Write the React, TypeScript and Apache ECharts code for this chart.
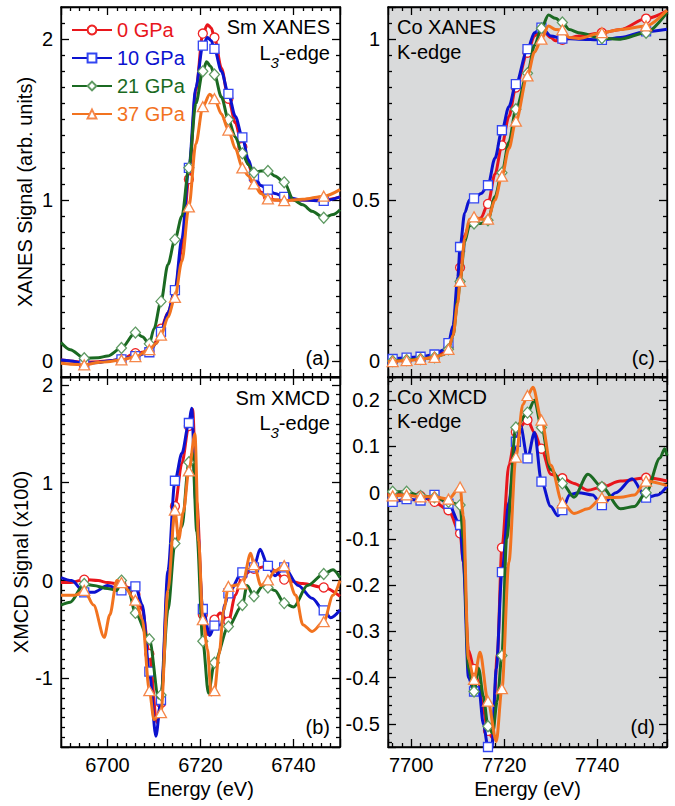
import React, { useEffect, useRef } from "react";
import * as echarts from "echarts";

const FONT = "'Liberation Sans', Arial, Helvetica, sans-serif";

// ---------- data ----------
const pressures = ["0 GPa", "10 GPa", "21 GPa", "37 GPa"];

// energies where markers are drawn
const smMarkerX = [6695, 6703, 6706, 6709, 6711.5, 6714.5, 6717.5, 6720.5, 6723, 6726, 6729, 6731.5, 6734.5, 6738, 6746.5];
const coMarkerX = [7696, 7699, 7702, 7705, 7708, 7710.5, 7713.5, 7716.5, 7719.5, 7722.5, 7725, 7728, 7732.5, 7741, 7750.5];

// Sm XANES (a)
const smXanes0 = [[6690,0.005],[6692,0.0],[6695,-0.01],[6698,-0.005],[6700,0.0],[6703,0.01],[6706,0.048],[6709,0.06],[6710.5,0.12],[6711.5,0.2],[6713,0.3],[6714.5,0.43],[6716,0.7],[6717.5,1.13],[6719,1.68],[6720.5,2.035],[6721.5,2.09],[6722.3,2.07],[6723,2.01],[6724.5,1.82],[6726,1.63],[6727.5,1.48],[6729,1.33],[6730.3,1.22],[6731.5,1.13],[6733,1.05],[6734.5,1.02],[6736,1.0],[6738,1.0],[6742,1.0],[6746.5,1.0],[6750,1.02]];
const smXanes10 = [[6690,0.005],[6692,0.0],[6695,-0.015],[6698,-0.01],[6700,0.0],[6703,0.01],[6706,0.03],[6709,0.054],[6710.5,0.11],[6711.5,0.18],[6713,0.3],[6714.5,0.44],[6716,0.76],[6717.5,1.2],[6719,1.7],[6720.5,1.96],[6721.5,2.01],[6722.3,1.99],[6723,1.94],[6724.5,1.8],[6726,1.66],[6727.5,1.52],[6729,1.39],[6730.3,1.25],[6731.5,1.15],[6733,1.09],[6734.5,1.065],[6736,1.04],[6738,1.02],[6742,1.0],[6746.5,0.995],[6750,1.02]];
const smXanes21 = [[6690,0.115],[6692,0.07],[6695,0.017],[6698,0.02],[6700,0.03],[6703,0.08],[6706,0.176],[6707.5,0.15],[6709,0.106],[6710,0.2],[6711.5,0.37],[6713,0.6],[6714.5,0.754],[6716,0.9],[6717.5,1.2],[6719,1.6],[6720.5,1.8],[6721.3,1.86],[6722.2,1.83],[6723,1.78],[6724.5,1.64],[6726,1.5],[6727.5,1.39],[6729,1.29],[6730.3,1.22],[6731.5,1.17],[6733,1.18],[6734.5,1.18],[6736,1.15],[6738,1.11],[6740,1.0],[6742,0.97],[6744,0.93],[6746.5,0.89],[6748.5,0.91],[6750,0.94]];
const smXanes37 = [[6690,-0.015],[6692,-0.02],[6695,-0.025],[6698,-0.01],[6700,-0.005],[6703,0.006],[6706,0.027],[6709,0.07],[6710.5,0.11],[6711.5,0.16],[6713,0.27],[6714.5,0.395],[6716,0.62],[6717.5,0.957],[6719,1.35],[6720.5,1.58],[6722,1.657],[6723,1.63],[6724.5,1.535],[6726,1.435],[6727.5,1.32],[6729,1.2],[6730.3,1.15],[6731.5,1.1],[6733,1.04],[6734.5,1.007],[6736,1.0],[6738,0.997],[6742,1.005],[6746.5,1.024],[6750,1.065]];

// Sm XMCD (b)
const smXmcd0 = [[6690,-0.02],[6692,-0.02],[6695,0.01],[6698,0.0],[6700,-0.02],[6703,-0.04],[6705,-0.08],[6706,-0.14],[6707.5,-0.3],[6709,-0.75],[6710.6,-1.45],[6711.5,-1.25],[6713,0.0],[6714.5,0.76],[6716,1.2],[6717.5,1.58],[6718.3,1.75],[6719.2,0.8],[6720.5,-0.35],[6721.5,-0.55],[6723,-0.4],[6724.2,-0.33],[6726,-0.42],[6727.5,-0.15],[6729,0.05],[6731.5,0.12],[6734.5,0.15],[6736,0.1],[6738,0.01],[6742,-0.03],[6746.5,-0.07],[6750,-0.16]];
const smXmcd10 = [[6690,0.03],[6692.3,0.0],[6695,-0.12],[6697,-0.12],[6700,-0.05],[6703,-0.1],[6706,-0.06],[6707.5,-0.25],[6709,-0.93],[6710.4,-1.59],[6711.5,-1.22],[6713,0.1],[6714.5,1.02],[6716,1.3],[6717.5,1.61],[6718.1,1.76],[6719,0.8],[6720.5,-0.29],[6722,-0.56],[6723,-0.46],[6724.5,-0.45],[6725.2,-0.25],[6726,-0.13],[6729,0.085],[6731.5,0.136],[6732.8,0.32],[6734.5,0.15],[6736,0.05],[6738,0.136],[6741,-0.05],[6744,-0.18],[6746.5,-0.305],[6748,-0.38],[6750,-0.3]];
const smXmcd21 = [[6690,-0.25],[6692,-0.22],[6695,-0.035],[6697,-0.05],[6700,-0.08],[6702,-0.1],[6703,0.0],[6704.5,-0.1],[6706,-0.33],[6709,-0.6],[6711,-1.2],[6711.5,-1.17],[6713,-0.3],[6714.5,0.38],[6716,0.55],[6717.5,1.21],[6718.3,1.3],[6719.2,0.5],[6720.5,-0.62],[6721.7,-1.15],[6723,-0.84],[6726,-0.47],[6729,-0.25],[6730,-0.05],[6731.5,-0.16],[6733.5,-0.05],[6734.5,-0.07],[6736,-0.1],[6738,-0.23],[6740,-0.27],[6743,-0.05],[6746.5,0.068],[6748.5,0.11],[6750,0.03]];
const smXmcd37 = [[6690,-0.15],[6693,-0.15],[6695,-0.1],[6697,-0.25],[6699.3,-0.58],[6700.5,-0.35],[6702,0.0],[6703,-0.02],[6706,-0.2],[6707.5,-0.4],[6709,-1.125],[6710,-1.42],[6711.5,-1.35],[6713,-0.1],[6714.5,0.72],[6715.3,0.42],[6716.3,0.7],[6717.5,1.12],[6718.8,1.5],[6719.6,0.4],[6720.5,-0.4],[6721.5,-0.7],[6722.3,-1.17],[6723,-1.125],[6724,-0.75],[6725,-0.3],[6726,-0.06],[6729,-0.034],[6730.8,0.28],[6731.5,0.163],[6733,-0.05],[6734.5,0.007],[6736,0.1],[6738,0.153],[6740.5,-0.15],[6742,-0.45],[6744,-0.52],[6746.5,-0.42],[6748.5,-0.15],[6750,0.0]];

// Co XANES (c)
const coXanes0 = [[7695,0.0],[7696,0.001],[7699,0.005],[7702,0.009],[7705,0.016],[7707,0.025],[7708,0.04],[7709,0.1],[7710,0.22],[7710.5,0.29],[7711.5,0.39],[7712.5,0.425],[7713.5,0.43],[7715,0.445],[7716.5,0.488],[7718,0.58],[7719.5,0.67],[7721,0.76],[7722.5,0.85],[7725,0.958],[7726.5,1.01],[7728,1.033],[7730,1.005],[7731,0.995],[7732.5,0.998],[7736,1.01],[7741,1.02],[7745,1.03],[7750.5,1.064],[7755,1.088]];
const coXanes10 = [[7695,0.005],[7696,0.006],[7699,0.01],[7702,0.013],[7705,0.02],[7707,0.035],[7708,0.055],[7709,0.11],[7710,0.26],[7710.5,0.354],[7711.5,0.46],[7712.5,0.5],[7713.5,0.505],[7715,0.52],[7716.5,0.546],[7718,0.63],[7719.5,0.717],[7721,0.79],[7722.5,0.86],[7725,0.969],[7726.5,1.02],[7728,1.036],[7730,1.01],[7732.5,1.002],[7736,1.0],[7741,0.998],[7745,1.005],[7750.5,1.024],[7755,1.031]];
const coXanes21 = [[7695,0.0],[7696,0.0],[7699,0.003],[7702,0.006],[7705,0.011],[7707,0.02],[7708,0.036],[7709,0.08],[7710,0.19],[7710.5,0.247],[7711.5,0.37],[7712.5,0.42],[7713.5,0.427],[7715,0.427],[7716.5,0.437],[7718,0.51],[7719.5,0.585],[7721,0.68],[7722.5,0.782],[7725,0.894],[7726.5,0.98],[7728,1.034],[7729.5,1.075],[7731,1.065],[7732.5,1.052],[7734,1.03],[7736,1.02],[7741,1.003],[7745,1.0],[7750.5,1.02],[7755,1.083]];
const coXanes37 = [[7695,-0.002],[7696,-0.002],[7699,0.001],[7702,0.005],[7705,0.011],[7707,0.02],[7708,0.036],[7709,0.08],[7710,0.18],[7710.5,0.247],[7711.5,0.38],[7712.5,0.44],[7713.5,0.448],[7715,0.44],[7716.5,0.441],[7718,0.5],[7719.5,0.574],[7721,0.66],[7722.5,0.745],[7725,0.886],[7726.5,0.96],[7728,1.0],[7729.5,1.041],[7731,1.03],[7732.5,1.029],[7734,1.005],[7736,1.002],[7741,1.02],[7745,1.03],[7750.5,1.041],[7755,1.09]];

// Co XMCD (d)
const coXmcd0 = [[7695,0.0],[7696,-0.004],[7699,-0.005],[7702,-0.007],[7705,-0.02],[7708,-0.038],[7710.5,-0.088],[7711.2,-0.15],[7712.3,-0.34],[7713.5,-0.381],[7714.5,-0.41],[7715.5,-0.47],[7716.5,-0.515],[7717.5,-0.53],[7718.5,-0.35],[7719.5,-0.119],[7721,0.06],[7722.5,0.131],[7725,0.157],[7726.5,0.13],[7728,0.095],[7730,0.04],[7732.5,0.031],[7735,0.02],[7738,0.005],[7741,0.012],[7745,0.025],[7750.5,0.032],[7755,0.025]];
const coXmcd10 = [[7695,-0.015],[7696,-0.02],[7699,-0.014],[7702,-0.017],[7705,-0.005],[7708,-0.024],[7710.5,-0.07],[7711.2,-0.15],[7712.3,-0.4],[7713.5,-0.43],[7714.5,-0.42],[7715.5,-0.5],[7716.5,-0.55],[7717.3,-0.555],[7718.3,-0.38],[7719.5,-0.172],[7721,-0.02],[7722.5,0.11],[7723.5,0.145],[7725,0.074],[7726.5,0.13],[7728,0.024],[7730,-0.03],[7731.5,-0.05],[7732.5,-0.038],[7734,-0.005],[7736,0.0],[7739,-0.005],[7741,-0.027],[7744,0.0],[7747.5,0.03],[7750.5,-0.011],[7753,-0.005],[7755,0.014]];
const coXmcd21 = [[7695,0.002],[7696,0.002],[7699,0.002],[7702,-0.007],[7705,-0.01],[7708,-0.02],[7710.5,-0.027],[7711.2,-0.1],[7712.3,-0.38],[7713.5,-0.43],[7714.5,-0.38],[7715.5,-0.44],[7716.5,-0.505],[7717.5,-0.52],[7718.5,-0.45],[7719.5,-0.352],[7720.5,-0.1],[7722.5,0.141],[7725,0.173],[7726.5,0.2],[7728,0.141],[7730,0.05],[7732.5,0.02],[7735,-0.01],[7738,0.04],[7741,0.012],[7745,-0.035],[7748,-0.03],[7750.5,0.0],[7753.5,0.075],[7754.5,0.095],[7755,0.08]];
const coXmcd37 = [[7695,-0.005],[7696,-0.007],[7699,-0.005],[7702,-0.009],[7705,-0.009],[7708,-0.014],[7710.5,0.012],[7711.2,-0.05],[7712.3,-0.36],[7713.5,-0.404],[7714.8,-0.345],[7716.5,-0.451],[7718.3,-0.538],[7719.5,-0.424],[7721,-0.15],[7722.5,0.077],[7724,0.19],[7725,0.21],[7726.2,0.228],[7728,0.157],[7730,0.06],[7732.5,-0.022],[7735,-0.045],[7738,-0.035],[7741,-0.011],[7745,-0.01],[7748,-0.005],[7750.5,0.025],[7755,0.015]];

const smRange = [6690, 6750];
const coRange = [7695, 7755];
const yRanges = [[-0.1, 2.2], [-1.7, 2.08], [-0.05, 1.1], [-0.55, 0.25]];

// ---------- styles ----------
const LINE_COLORS = ["#e8161c", "#0c12cf", "#1b6a22", "#f2731f"];
const EDGE_COLORS = ["#ee2424", "#3346f2", "#5f9a63", "#f5874a"];
const SHAPES = ["circle", "rect", "diamond", "triangle"];
const SIZES: any[] = [9, 9, [10, 11], [11, 10]];
const GRAY = "#d9dadb";

const panelData = [
  { grid: 0, sets: [smXanes0, smXanes10, smXanes21, smXanes37], mx: smMarkerX },
  { grid: 1, sets: [smXmcd0, smXmcd10, smXmcd21, smXmcd37], mx: smMarkerX },
  { grid: 2, sets: [coXanes0, coXanes10, coXanes21, coXanes37], mx: coMarkerX },
  { grid: 3, sets: [coXmcd0, coXmcd10, coXmcd21, coXmcd37], mx: coMarkerX },
];

const grids = [
  { left: 61, top: 7, width: 279, height: 370 },
  { left: 61, top: 377, width: 279, height: 370 },
  { left: 388, top: 7, width: 279, height: 370, backgroundColor: GRAY },
  { left: 388, top: 377, width: 279, height: 370, backgroundColor: GRAY },
].map((g) => ({ show: true, borderColor: "#000", borderWidth: 1.3, backgroundColor: "transparent", ...g }));

function axisParts(labels: boolean, minorSplit: number, nameGap: number, name?: string) {
  return {
    axisLine: { show: true, onZero: false, lineStyle: { color: "#000", width: 1.3 } },
    axisTick: { show: true, inside: true, length: 8, lineStyle: { color: "#000", width: 1.3 } },
    minorTick: { show: true, splitNumber: minorSplit, length: 4, lineStyle: { color: "#000", width: 1.3 } },
    splitLine: { show: false },
    minorSplitLine: { show: false },
    axisLabel: {
      show: labels, margin: 8, color: "#000", fontSize: 20, fontFamily: FONT,
      showMinLabel: false, showMaxLabel: false,
      formatter: (v: number) => String(v),
    },
    name: name || "", nameLocation: "middle", nameGap,
    nameTextStyle: { color: "#000", fontSize: 20, fontFamily: FONT },
  };
}

function xAxis(grid: number, position: string, range: number[], labels: boolean, name?: string) {
  return {
    type: "value", gridIndex: grid, position, min: range[0], max: range[1], splitNumber: 3,
    ...axisParts(labels, 10, 32, name),
  };
}

function yAxis(grid: number, position: string, split: number, minorSplit: number, labels: boolean, name?: string) {
  const r = yRanges[grid];
  return {
    type: "value", gridIndex: grid, position, min: r[0], max: r[1], splitNumber: split,
    ...axisParts(labels, minorSplit, 26, name),
  };
}

const xAxes = [
  xAxis(0, "bottom", smRange, false), xAxis(0, "top", smRange, false),
  xAxis(1, "bottom", smRange, true, "Energy (eV)"), xAxis(1, "top", smRange, false),
  xAxis(2, "bottom", coRange, false), xAxis(2, "top", coRange, false),
  xAxis(3, "bottom", coRange, true, "Energy (eV)"), xAxis(3, "top", coRange, false),
];
const yAxes = [
  yAxis(0, "left", 2, 10, true, "XANES Signal (arb. units)"), yAxis(0, "right", 2, 10, false),
  yAxis(1, "left", 4, 10, true, "XMCD Signal (x100)"), yAxis(1, "right", 4, 10, false),
  yAxis(2, "left", 2, 10, true), yAxis(2, "right", 2, 10, false),
  yAxis(3, "left", 8, 5, true), yAxis(3, "right", 8, 5, false),
];

const series: any[] = [];
panelData.forEach((p) => {
  p.sets.forEach((pts, i) => {
    series.push({
      type: "line", name: pressures[i], xAxisIndex: 2 * p.grid, yAxisIndex: 2 * p.grid,
      data: pts.map((pt) => (p.mx.includes(pt[0]) ? { value: pt } : { value: pt, symbol: "none" })),
      symbol: SHAPES[i], symbolSize: SIZES[i], showSymbol: true, showAllSymbol: true,
      smooth: 0.3, smoothMonotone: "x", clip: true,
      lineStyle: { color: LINE_COLORS[i], width: 3 },
      itemStyle: { color: "#ffffff", borderColor: EDGE_COLORS[i], borderWidth: 1.3 },
      emphasis: { disabled: true },
      z: 2 + i,
    });
  });
});

const richL3 = {
  n: { fontSize: 20, fontFamily: FONT, lineHeight: 34, verticalAlign: "middle", fill: "#000" },
  s: { fontSize: 15, fontFamily: FONT, fontStyle: "italic", lineHeight: 15, verticalAlign: "bottom", fill: "#000" },
};

function label(text: string, x: number, y: number, align: string) {
  return { type: "text", x, y, z: 20, style: { text, fontSize: 20, fontFamily: FONT, fill: "#000", align, verticalAlign: "middle" } };
}
function l3label(x: number, y: number) {
  return { type: "text", x, y, z: 20, style: { text: "{n|L}{s|3}{n|-edge}", rich: richL3, align: "right", verticalAlign: "top", fill: "#000" } };
}

const graphics = [
  label("Sm XANES", 330, 27, "right"), l3label(330, 36), label("(a)", 330, 358, "right"),
  label("Sm XMCD", 330, 398, "right"), l3label(330, 406), label("(b)", 330, 727, "right"),
  label("Co XANES", 397, 27, "left"), label("K-edge", 397, 52, "left"), label("(c)", 655, 358, "right"),
  label("Co XMCD", 397, 397, "left"), label("K-edge", 397, 421, "left"), label("(d)", 655, 727, "right"),
];

const option = {
  animation: false,
  backgroundColor: "#ffffff",
  textStyle: { fontFamily: FONT },
  grid: grids,
  xAxis: xAxes,
  yAxis: yAxes,
  legend: {
    orient: "vertical", left: 66, top: 15, itemWidth: 40, itemHeight: 11, itemGap: 8,
    selectedMode: false,
    textStyle: { fontSize: 20, fontFamily: FONT, lineHeight: 20 },
    data: pressures.map((n, i) => ({ name: n, textStyle: { color: LINE_COLORS[i] } })),
  },
  graphic: graphics,
  series,
};

export default function App() {
  const ref = useRef<HTMLDivElement>(null);
  useEffect(() => {
    document.body.style.margin = "0";
    const chart = echarts.init(ref.current!, null, { renderer: "svg" });
    chart.setOption(option as any);
    return () => chart.dispose();
  }, []);
  return <div ref={ref} style={{ width: 675, height: 806 }} />;
}
